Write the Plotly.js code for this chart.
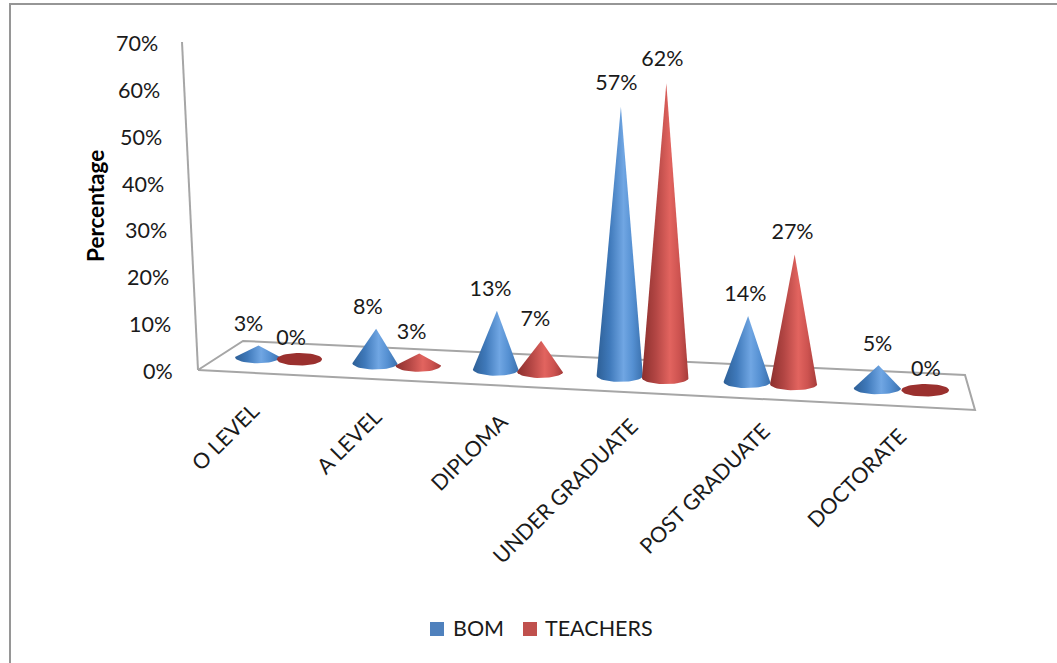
<!DOCTYPE html>
<html><head><meta charset="utf-8">
<script src="https://cdn.plot.ly/plotly-3.0.1.min.js"></script>
<style>html,body{margin:0;padding:0;background:#fff}</style></head>
<body><div id="chart" style="width:1057px;height:663px"></div>
<script>
// ---- data ----
const categories = ["O LEVEL","A LEVEL","DIPLOMA","UNDER GRADUATE","POST GRADUATE","DOCTORATE"];
const bom = [3,8,13,57,14,5];
const teachers = [0,3,7,62,27,0];
const tickValues = [0,10,20,30,40,50,60,70];
const seriesNames = ["BOM","TEACHERS"];

// ---- oblique projection of the 3D chart box onto the page ----
const FONT = "Lato, Carlito, Calibri, sans-serif";
const INK = "#1a1a1a", GRID = "#a6a6a6";
const projX = k => 257.5 + 116*k + 1.6*k*k;
const projBase = k => 357 + 6.2*k;
const projScale = k => 4.48 + 0.09*k;
const tipY = (k,v) => projBase(k) + (v > 0 ? 2 : 0) - v*projScale(k);
const seriesOffset = 0.36;

const blueScale = [[0,"#2d5f96"],[0.28,"#3f79ba"],[0.58,"#70a6e3"],[0.78,"#5590d2"],[1,"#3a70ad"]];
const redScale  = [[0,"#8c2f2d"],[0.3,"#b34644"],[0.6,"#e2645f"],[0.8,"#cd5350"],[1,"#a63c3a"]];
const seriesStyle = [
  {legend:"#4f81bd", scale:blueScale, flat:"#3f70ab"},
  {legend:"#c0504d", scale:redScale,  flat:"#9a302e"}
];

function coneTrace(k, v, style){
  const cx = projX(k), cy = projBase(k), rx = 22.5 + 0.25*k, ry = 6.3;
  const xs = [], ys = [];
  if (v === 0){
    for (let a = 0; a <= 48; a++){
      xs.push(cx + rx*Math.cos(a/48*2*Math.PI));
      ys.push(cy + ry*Math.sin(a/48*2*Math.PI));
    }
    return {x:xs,y:ys,mode:"lines",line:{width:0},fill:"toself",fillcolor:style.flat,
            hoverinfo:"skip",showlegend:false,type:"scatter"};
  }
  xs.push(cx + 1); ys.push(tipY(k,v));
  for (let a = 0; a <= 24; a++){
    xs.push(cx + rx*Math.cos(a/24*Math.PI));
    ys.push(cy + ry*Math.sin(a/24*Math.PI));
  }
  xs.push(cx + 1); ys.push(tipY(k,v));
  return {x:xs,y:ys,mode:"lines",line:{width:0},fill:"toself",
          fillgradient:{type:"horizontal",colorscale:style.scale},
          hoverinfo:"skip",showlegend:false,type:"scatter"};
}

const traces = [];
// floor
traces.push({type:"scatter",mode:"lines",x:[198,243,965,975,198],y:[370,341,375,410,370],
  line:{color:GRID,width:2},hoverinfo:"skip",showlegend:false});
// value wall edge
traces.push({type:"scatter",mode:"lines",
  x:[0,70].map(v=>198-16*v/70), y:[0,70].map(v=>370-328*v/70),
  line:{color:GRID,width:2},hoverinfo:"skip",showlegend:false});

const labelX = [], labelY = [], labelT = [];
[bom,teachers].forEach((vals,s)=>{
  vals.forEach((v,i)=>{
    const k = i + s*seriesOffset;
    traces.push(coneTrace(k,v,seriesStyle[s]));
    labelX.push(projX(k) - 9 + 1.8*k);
    labelY.push(tipY(k,v) - 19.5 - v*0.055);
    labelT.push(v+"%");
  });
});
// data labels
traces.push({type:"scatter",mode:"text",x:labelX,y:labelY,text:labelT,textposition:"middle center",
  textfont:{family:FONT,size:21.5,color:INK},hoverinfo:"skip",showlegend:false,cliponaxis:false});
// legend keys
const legendKeyX = [437, 530];
const legendTextX = [450.5, 542.5];
seriesNames.forEach((n,s)=>traces.push({type:"scatter",mode:"markers",x:[legendKeyX[s]],y:[629],name:n,
  marker:{symbol:"square",size:14,color:seriesStyle[s].legend},hoverinfo:"skip",showlegend:false}));

const annotations = [];
tickValues.forEach(v=>annotations.push({x:175-15*v/70,y:371-328*v/70,xref:"x",yref:"y",text:v+"%",
  showarrow:false,xanchor:"right",yanchor:"middle",font:{family:FONT,size:21.5,color:INK}}));
categories.forEach((c,i)=>annotations.push({x:projX(i)+9+5.5*i,y:395+5*i,xref:"x",yref:"y",text:c,
  showarrow:false,textangle:-45,xanchor:"right",yanchor:"top",font:{family:FONT,size:21.5,color:INK}}));
annotations.push({x:95,y:206,xref:"x",yref:"y",text:"<b>Percentage</b>",showarrow:false,textangle:-90,
  xanchor:"center",yanchor:"middle",font:{family:FONT,size:22.5,color:"#000"}});
seriesNames.forEach((n,s)=>annotations.push({x:legendTextX[s],y:628,xref:"x",yref:"y",text:n,showarrow:false,
  xanchor:"left",yanchor:"middle",font:{family:FONT,size:21.5,color:INK}}));

const frame = {color:"#969696",width:2};
const layout = {
  width:1057,height:663,margin:{l:0,r:0,t:0,b:0},paper_bgcolor:"#fff",plot_bgcolor:"#fff",
  xaxis:{range:[0,1057],visible:false,fixedrange:true},
  yaxis:{range:[663,0],visible:false,fixedrange:true},
  showlegend:false,
  annotations,
  shapes:[
    {type:"line",xref:"x",yref:"y",x0:9,x1:1057,y0:4,y1:4,line:frame,layer:"below"},
    {type:"line",xref:"x",yref:"y",x0:10,x1:10,y0:4,y1:663,line:frame,layer:"below"}
  ]
};
Plotly.newPlot("chart",traces,layout,{displayModeBar:false,staticPlot:true});
</script></body></html>
